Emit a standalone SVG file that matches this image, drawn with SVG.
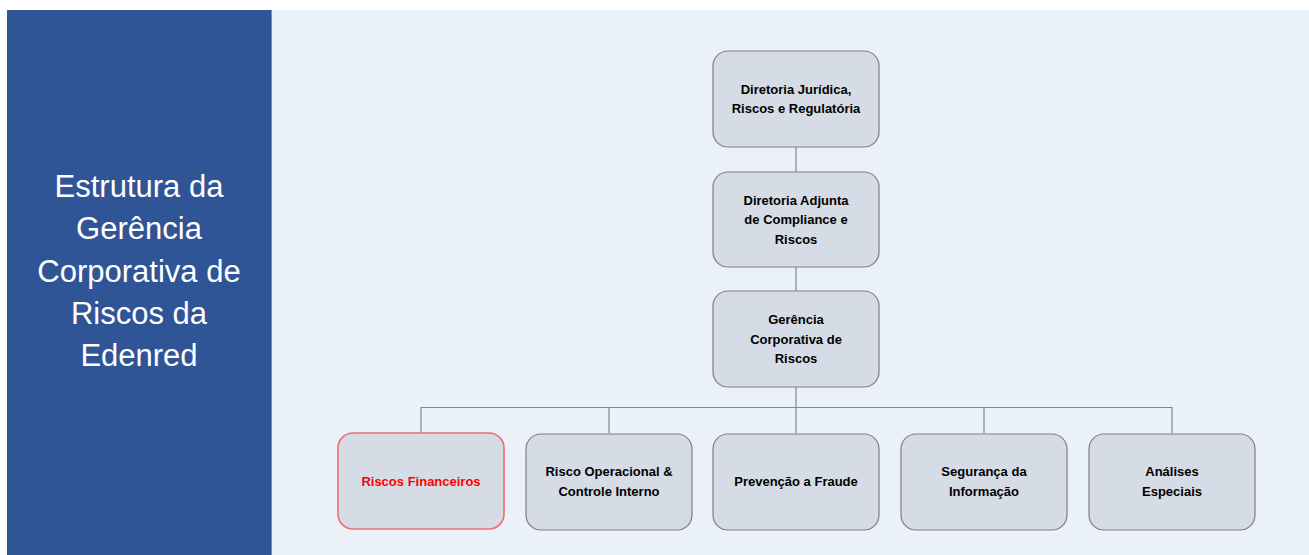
<svg xmlns="http://www.w3.org/2000/svg" width="1309" height="555" viewBox="0 0 1309 555">
<style>
.box{fill:#D6DCE5;stroke:#7F7F7F;stroke-width:1.2}
.red{fill:#D6DCE5;stroke:#F36B6B;stroke-width:1.6}
.t{font-family:"Liberation Sans",Arial,sans-serif;font-weight:bold;font-size:13px;fill:#000;text-anchor:middle}
.tr{fill:#FF0000}
.title{font-family:"Liberation Sans",Arial,sans-serif;font-size:31px;fill:#FFFFFF;text-anchor:middle}
.c{stroke:#7F8796;stroke-width:1.2;fill:none}
</style>
<rect width="1309" height="555" fill="#FFFFFF"/>
<rect x="7" y="10" width="264" height="545" fill="#2F5597"/>
<rect x="271" y="10" width="1038" height="545" fill="#EAF1F9"/>
<line x1="271.5" y1="10" x2="271.5" y2="555" stroke="#6D8FCB" stroke-width="1"/>
<g id="title">
<text class="title" x="139" y="197">Estrutura da</text>
<text class="title" x="139" y="239">Gerência</text>
<text class="title" x="139" y="282">Corporativa de</text>
<text class="title" x="139" y="324">Riscos da</text>
<text class="title" x="139" y="366">Edenred</text>
</g>
<g id="connectors">
<line class="c" x1="796" y1="147" x2="796" y2="172"/>
<line class="c" x1="796" y1="267" x2="796" y2="291"/>
<line class="c" x1="796" y1="387" x2="796" y2="433"/>
<line class="c" x1="421" y1="407.5" x2="1172" y2="407.5"/>
<line class="c" x1="421" y1="407" x2="421" y2="433"/>
<line class="c" x1="609" y1="407" x2="609" y2="433"/>
<line class="c" x1="984" y1="407" x2="984" y2="433"/>
<line class="c" x1="1172" y1="407" x2="1172" y2="433"/>
</g>
<g id="n1">
<rect class="box" x="713" y="51" width="166" height="96" rx="15"/>
<text class="t" x="796" y="94">Diretoria Jurídica,</text>
<text class="t" x="796" y="113">Riscos e Regulatória</text>
</g>
<g id="n2">
<rect class="box" x="713" y="172" width="166" height="95" rx="15"/>
<text class="t" x="796" y="205">Diretoria Adjunta</text>
<text class="t" x="796" y="224">de Compliance e</text>
<text class="t" x="796" y="244">Riscos</text>
</g>
<g id="n3">
<rect class="box" x="713" y="291" width="166" height="96" rx="15"/>
<text class="t" x="796" y="324">Gerência</text>
<text class="t" x="796" y="344">Corporativa de</text>
<text class="t" x="796" y="363">Riscos</text>
</g>
<g id="n4">
<rect class="red" x="338" y="433" width="166" height="96" rx="15"/>
<text class="t tr" x="421" y="486">Riscos Financeiros</text>
</g>
<g id="n5">
<rect class="box" x="526" y="434" width="166" height="96" rx="15"/>
<text class="t" x="609" y="476">Risco Operacional &amp;</text>
<text class="t" x="609" y="496">Controle Interno</text>
</g>
<g id="n6">
<rect class="box" x="713" y="434" width="166" height="96" rx="15"/>
<text class="t" x="796" y="486">Prevenção a Fraude</text>
</g>
<g id="n7">
<rect class="box" x="901" y="434" width="166" height="96" rx="15"/>
<text class="t" x="984" y="476">Segurança da</text>
<text class="t" x="984" y="496">Informação</text>
</g>
<g id="n8">
<rect class="box" x="1089" y="434" width="166" height="96" rx="15"/>
<text class="t" x="1172" y="476">Análises</text>
<text class="t" x="1172" y="496">Especiais</text>
</g>
</svg>
